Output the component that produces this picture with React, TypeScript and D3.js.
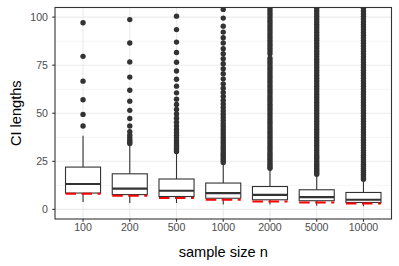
import React, { useEffect, useRef } from 'react';
import * as d3 from 'd3';

const sampleSizes = ['100', '200', '500', '1000', '2000', '5000', '10000'];

// box stats
const whiskerLow = [3.8, 3.3, 3.3, 2.6, 2.6, 1.9, 1.6];
const q1 = [8.5, 7.7, 6.7, 5.8, 5.0, 4.5, 3.6];
const medians = [13.2, 10.8, 9.7, 8.5, 7.5, 6.4, 5.0];
const q3 = [22.0, 18.5, 15.8, 13.7, 11.9, 10.2, 8.8];
const whiskerHigh = [38.3, 33.5, 29.4, 24.4, 21.4, 17.8, 15.0];

// red dashed reference lengths
const refLengths = [8.1, 7.1, 5.9, 5.0, 4.1, 3.6, 3.0];

const out100 = [97.1, 79.6, 66.7, 57.0, 49.4, 43.4];
const out200 = [98.7, 86.5, 76.7, 68.8, 62.0, 56.3, 51.5, 47.3, 43.4, 40.4, 38.6, 37.2, 36.0, 35.0, 34.3];
const out500 = [100.5, 93.5, 87.0, 81.6, 76.5, 72.0, 67.7, 64.1, 60.6, 57.3, 54.6, 52.0, 49.6, 47.4, 45.3,
  43.4, 41.6, 40.0, 38.5, 37.1, 35.8, 34.5, 33.3, 32.2, 31.1, 30.1];
const out1000 = [104.0, 99.5, 95.3, 92.2, 89.3, 86.5, 83.6, 81.0, 78.4, 75.8, 73.2, 70.6, 67.9, 65.3, 63.0,
  60.8, 58.7, 56.7, 54.8, 53.0, 51.2, 49.5, 47.8, 46.2, 44.6, 43.1, 41.6, 40.2, 38.8, 37.4, 36.1, 34.8,
  33.5, 32.3, 31.1, 29.9, 28.7, 27.6, 26.5, 25.4, 24.4];
const out2000 = [104.8, 103.4, 102.0, 100.6, 99.2, 97.8, 96.4, 95.0, 93.6, 92.2, 90.8, 89.4, 88.0, 86.6,
  85.2, 83.8, 82.4, 81.0, 78.6, 77.3, 76.0, 74.6, 73.3, 72.0, 70.6, 69.3, 68.0, 66.6, 65.3, 64.0, 62.6,
  61.3, 60.0, 58.6, 57.3, 56.0, 54.6, 53.3, 52.0, 50.6, 49.3, 48.0, 46.6, 45.3, 44.0, 42.6, 41.3, 40.0,
  38.7, 37.4, 36.1, 34.8, 33.5, 32.3, 31.1, 29.9, 28.7, 27.5, 26.4, 25.3, 24.2, 23.2, 22.2, 21.4];
const out5000 = [104.6, 103.2, 101.8, 100.4, 99.0, 97.6, 96.2, 94.8, 93.4, 92.0, 90.6, 89.2, 87.8, 86.4,
  85.0, 83.6, 82.2, 80.8, 79.4, 78.0, 76.6, 75.2, 73.8, 72.4, 71.0, 69.6, 68.2, 66.8, 65.4, 64.0, 62.6,
  61.2, 59.8, 58.4, 57.0, 55.6, 54.2, 52.8, 51.4, 50.0, 48.6, 47.2, 45.8, 44.4, 43.0, 41.6, 40.2, 38.8,
  37.4, 36.0, 34.6, 33.3, 32.0, 30.7, 29.4, 28.2, 27.0, 25.8, 24.6, 23.5, 22.4, 21.3, 20.3, 19.3, 18.3];
const out10000 = [104.6, 103.2, 101.8, 100.4, 99.0, 97.6, 96.2, 94.8, 93.4, 92.0, 90.6, 89.2, 87.8, 86.4,
  85.0, 83.6, 82.2, 80.8, 79.4, 78.0, 76.6, 75.2, 73.8, 72.4, 71.0, 69.6, 68.2, 66.8, 65.4, 64.0, 62.6,
  61.2, 59.8, 58.4, 57.0, 55.6, 54.2, 52.8, 51.4, 50.0, 48.6, 47.2, 45.8, 44.4, 43.0, 41.6, 40.2, 38.8,
  37.4, 36.0, 34.6, 33.3, 32.0, 30.7, 29.4, 28.2, 27.0, 25.8, 24.6, 23.5, 22.4, 21.3, 20.3, 19.3, 18.3,
  17.4, 16.5, 15.7];
const outliers = [out100, out200, out500, out1000, out2000, out5000, out10000];

const yTicks = [0, 25, 50, 75, 100];
const yMinor = [12.5, 37.5, 62.5, 87.5];

export default function App() {
  const svgRef = useRef<SVGSVGElement>(null);

  useEffect(() => {
    const width = 399;
    const height = 266;
    const margin = { top: 7.5, right: 7.5, bottom: 47, left: 55 };
    const ink = '#333333';

    const svg = d3.select(svgRef.current);
    svg.selectAll('*').remove();
    svg.attr('width', width).attr('height', height);

    const x = d3.scaleBand()
      .domain(sampleSizes)
      .range([margin.left, width - margin.right])
      .paddingOuter(0.1)
      .paddingInner(0);
    // ggplot discrete expansion: 0.6 units each side
    const step = (width - margin.right - margin.left) / (sampleSizes.length - 1 + 1.2);
    const cx = (i: number) => margin.left + step * (0.6 + i);

    const y = d3.scaleLinear()
      .domain([-5, 105])
      .range([height - margin.bottom, margin.top]);

    const pw = width - margin.left - margin.right;
    const ph = height - margin.top - margin.bottom;

    svg.append('rect')
      .attr('x', margin.left).attr('y', margin.top)
      .attr('width', pw).attr('height', ph)
      .attr('fill', 'white');

    svg.append('clipPath').attr('id', 'panel')
      .append('rect')
      .attr('x', margin.left).attr('y', margin.top)
      .attr('width', pw).attr('height', ph);

    // gridlines
    svg.selectAll('line.minor')
      .data(yMinor)
      .enter().append('line')
      .attr('x1', margin.left).attr('x2', width - margin.right)
      .attr('y1', d => y(d)).attr('y2', d => y(d))
      .attr('stroke', '#ebebeb').attr('stroke-width', 0.55);

    svg.selectAll('line.major')
      .data(yTicks)
      .enter().append('line')
      .attr('x1', margin.left).attr('x2', width - margin.right)
      .attr('y1', d => y(d)).attr('y2', d => y(d))
      .attr('stroke', '#ebebeb').attr('stroke-width', 1.1);

    svg.selectAll('line.vgrid')
      .data(sampleSizes)
      .enter().append('line')
      .attr('x1', (_, i) => cx(i)).attr('x2', (_, i) => cx(i))
      .attr('y1', margin.top).attr('y2', height - margin.bottom)
      .attr('stroke', '#ebebeb').attr('stroke-width', 1.1);

    const plot = svg.append('g').attr('clip-path', 'url(#panel)');
    const boxW = step * 0.75;

    sampleSizes.forEach((_, i) => {
      const c = cx(i);
      // whiskers
      plot.append('line')
        .attr('x1', c).attr('x2', c)
        .attr('y1', y(whiskerHigh[i])).attr('y2', y(q3[i]))
        .attr('stroke', ink).attr('stroke-width', 1.1);
      plot.append('line')
        .attr('x1', c).attr('x2', c)
        .attr('y1', y(q1[i])).attr('y2', y(whiskerLow[i]))
        .attr('stroke', ink).attr('stroke-width', 1.1);

      // outliers
      plot.selectAll(`circle.o${i}`)
        .data(outliers[i])
        .enter().append('circle')
        .attr('cx', c)
        .attr('cy', d => y(d))
        .attr('r', 2.7)
        .attr('fill', ink);

      // box
      plot.append('rect')
        .attr('x', c - boxW / 2).attr('width', boxW)
        .attr('y', y(q3[i])).attr('height', y(q1[i]) - y(q3[i]))
        .attr('fill', 'white').attr('stroke', ink).attr('stroke-width', 1.1);
      plot.append('line')
        .attr('x1', c - boxW / 2).attr('x2', c + boxW / 2)
        .attr('y1', y(medians[i])).attr('y2', y(medians[i]))
        .attr('stroke', ink).attr('stroke-width', 2.2);

      // reference line
      plot.append('line')
        .attr('x1', c - boxW / 2).attr('x2', c + boxW / 2)
        .attr('y1', y(refLengths[i])).attr('y2', y(refLengths[i]))
        .attr('stroke', '#ff0000').attr('stroke-width', 2)
        .attr('stroke-dasharray', '10.5 5.5');
    });

    // panel border
    svg.append('rect')
      .attr('x', margin.left).attr('y', margin.top)
      .attr('width', pw).attr('height', ph)
      .attr('fill', 'none').attr('stroke', ink).attr('stroke-width', 1.1);

    // y axis
    svg.selectAll('line.ytick')
      .data(yTicks)
      .enter().append('line')
      .attr('x1', margin.left - 2.75).attr('x2', margin.left)
      .attr('y1', d => y(d)).attr('y2', d => y(d))
      .attr('stroke', ink).attr('stroke-width', 1.1);

    svg.selectAll('text.ylab')
      .data(yTicks)
      .enter().append('text')
      .attr('x', margin.left - 7)
      .attr('y', d => y(d))
      .attr('dy', '0.36em')
      .attr('text-anchor', 'end')
      .attr('font-family', '"Liberation Sans", Arial, sans-serif')
      .attr('font-size', '10.6px')
      .attr('fill', '#4d4d4d')
      .text(d => d);

    // x axis
    svg.selectAll('line.xtick')
      .data(sampleSizes)
      .enter().append('line')
      .attr('x1', (_, i) => cx(i)).attr('x2', (_, i) => cx(i))
      .attr('y1', height - margin.bottom).attr('y2', height - margin.bottom + 2.75)
      .attr('stroke', ink).attr('stroke-width', 1.1);

    svg.selectAll('text.xlab')
      .data(sampleSizes)
      .enter().append('text')
      .attr('x', (_, i) => cx(i))
      .attr('y', 231.3)
      .attr('text-anchor', 'middle')
      .attr('font-family', '"Liberation Sans", Arial, sans-serif')
      .attr('font-size', '10.6px')
      .attr('fill', '#4d4d4d')
      .text(d => d);

    svg.append('text')
      .attr('x', margin.left + pw / 2)
      .attr('y', 257)
      .attr('text-anchor', 'middle')
      .attr('font-family', '"Liberation Sans", Arial, sans-serif')
      .attr('font-size', '14.6px')
      .attr('fill', 'black')
      .text('sample size n');

    svg.append('text')
      .attr('transform', `translate(20.5,${margin.top + ph / 2}) rotate(-90)`)
      .attr('text-anchor', 'middle')
      .attr('font-family', '"Liberation Sans", Arial, sans-serif')
      .attr('font-size', '14.6px')
      .attr('fill', 'black')
      .text('CI lengths');

    void x;
  }, []);

  return <svg ref={svgRef} style={{ position: 'absolute', left: 0, top: 0 }}></svg>;
}
